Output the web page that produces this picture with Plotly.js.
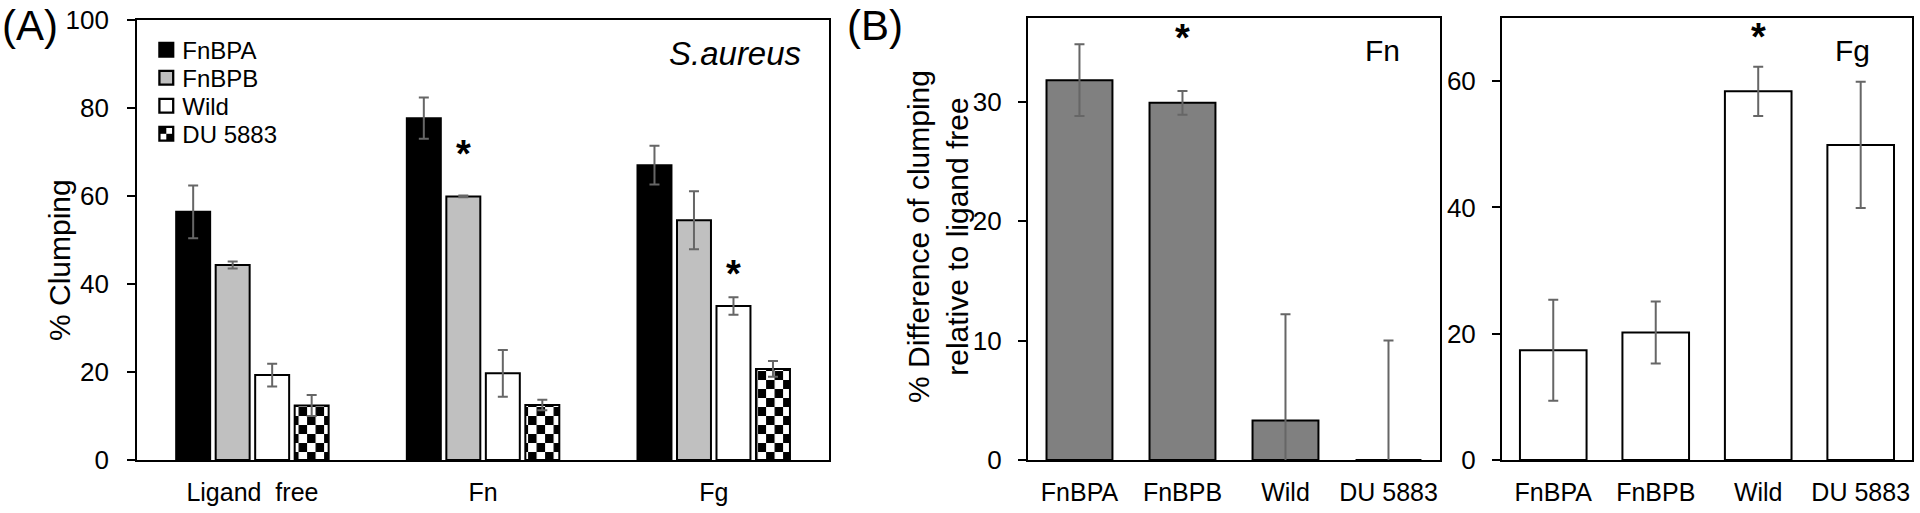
<!DOCTYPE html>
<html>
<head>
<meta charset="utf-8">
<script src="https://cdn.plot.ly/plotly-3.0.1.min.js"></script>
<style>
  html, body { margin: 0; padding: 0; background: #fff; }
  #chart { width: 1920px; height: 513px; }
</style>
</head>
<body>
<div id="chart"></div>
<script>
// panel A: % clumping per ligand
var groupsA = ['Ligand\u00a0\u00a0free', 'Fn', 'Fg'];
var fnbpaA = [56.4, 77.7, 67.0];
var fnbpaErrA = [6.0, 4.7, 4.4];
var fnbpbA = [44.3, 59.9, 54.5];
var fnbpbErrA = [0.8, 0.2, 6.6];
var wildA = [19.3, 19.7, 35.0];
var wildErrA = [2.6, 5.3, 2.0];
var duA = [12.4, 12.5, 20.7];
var duErrA = [2.4, 1.2, 1.8];

// panel B: % difference relative to ligand free
var strains = ['FnBPA', 'FnBPB', 'Wild', 'DU 5883'];
var fnDiff = [31.8, 29.9, 3.3, 0];
var fnDiffErr = [3.0, 1.0, 8.9, 10.0];
var fgDiff = [17.4, 20.2, 58.4, 49.9];
var fgDiffErr = [8.0, 4.9, 3.9, 10.0];

var font = 'Liberation Sans, Arial, sans-serif';
var errStyle = function (arr) {
  return {type: 'data', array: arr, visible: true, color: '#666666', thickness: 2, width: 5};
};

var trace1 = {
  x: groupsA, y: fnbpaA, name: 'FnBPA', type: 'bar',
  marker: {color: '#000000', line: {color: '#000000', width: 2}},
  error_y: errStyle(fnbpaErrA), xaxis: 'x', yaxis: 'y'
};
var trace2 = {
  x: groupsA, y: fnbpbA, name: 'FnBPB', type: 'bar',
  marker: {color: '#c0c0c0', line: {color: '#000000', width: 2}},
  error_y: errStyle(fnbpbErrA), xaxis: 'x', yaxis: 'y'
};
var trace3 = {
  x: groupsA, y: wildA, name: 'Wild', type: 'bar',
  marker: {color: '#ffffff', line: {color: '#000000', width: 2}},
  error_y: errStyle(wildErrA), xaxis: 'x', yaxis: 'y'
};
var trace4 = {
  x: groupsA, y: duA, name: 'DU 5883', type: 'bar',
  marker: {color: '#ffffff', line: {color: '#000000', width: 2},
    pattern: {shape: '+', fgcolor: '#000000', bgcolor: '#ffffff', size: 8, solidity: 0.5}},
  error_y: errStyle(duErrA), xaxis: 'x', yaxis: 'y'
};
var trace5 = {
  x: strains, y: fnDiff, name: 'Fn', type: 'bar', showlegend: false, width: 0.64,
  marker: {color: '#808080', line: {color: '#000000', width: 2}},
  error_y: errStyle(fnDiffErr), xaxis: 'x2', yaxis: 'y2'
};
var trace6 = {
  x: strains, y: fgDiff, name: 'Fg', type: 'bar', showlegend: false, width: 0.65,
  marker: {color: '#ffffff', line: {color: '#000000', width: 2}},
  error_y: errStyle(fgDiffErr), xaxis: 'x3', yaxis: 'y3'
};

var data = [trace1, trace2, trace3, trace4, trace5, trace6];

var axisBase = {
  showline: true, mirror: true, linecolor: '#000000', linewidth: 2,
  showgrid: false, zeroline: false, fixedrange: true
};
var xBase = Object.assign({}, axisBase, {
  type: 'category', ticks: '', tickfont: {family: font, size: 25, color: '#000'},
  ticklabelstandoff: 9
});
var yBase = Object.assign({}, axisBase, {
  ticks: 'outside', ticklen: 8, tickwidth: 2, tickcolor: '#000',
  tickfont: {family: font, size: 26, color: '#000'}, ticklabelstandoff: 13
});

var star = {family: font, size: 38, color: '#000'};
var titleFont = {family: font, size: 30, color: '#000'};

var layout = {
  width: 1920, height: 513, autosize: false,
  margin: {l: 0, r: 0, t: 0, b: 0},
  paper_bgcolor: '#ffffff', plot_bgcolor: '#ffffff',
  font: {family: font, color: '#000'},
  barmode: 'group', bargap: 0.315, bargroupgap: 0.14,
  showlegend: true,
  legend: {
    x: 0.0762, y: 0.946, xanchor: 'left', yanchor: 'top',
    font: {family: font, size: 24, color: '#000'},
    itemwidth: 30, tracegroupgap: 0, bgcolor: 'rgba(0,0,0,0)'
  },
  xaxis: Object.assign({}, xBase, {domain: [0.0714, 0.4318], anchor: 'y'}),
  yaxis: Object.assign({}, yBase, {
    domain: [0.1033, 0.961], anchor: 'x', range: [0, 100], dtick: 20
  }),
  xaxis2: Object.assign({}, xBase, {domain: [0.5354, 0.75], anchor: 'y2'}),
  yaxis2: Object.assign({}, yBase, {
    domain: [0.1033, 0.9649], anchor: 'x2', range: [0, 37], dtick: 10, ticklabelstandoff: 11
  }),
  xaxis3: Object.assign({}, xBase, {domain: [0.7823, 0.9958], anchor: 'y3'}),
  yaxis3: Object.assign({}, yBase, {
    domain: [0.1033, 0.9649], anchor: 'x3', range: [0, 70], dtick: 20, ticklabelstandoff: 11
  }),
  annotations: [
    {xref: 'paper', yref: 'paper', x: 0.0, y: 1.0, xanchor: 'left', yanchor: 'top',
      text: '(A)', showarrow: false, font: {family: font, size: 42, color: '#000'}},
    {xref: 'paper', yref: 'paper', x: 0.440, y: 1.0, xanchor: 'left', yanchor: 'top',
      text: '(B)', showarrow: false, font: {family: font, size: 42, color: '#000'}},
    {xref: 'paper', yref: 'paper', x: 0.0307, y: 0.493, xanchor: 'center', yanchor: 'middle',
      textangle: -90, text: '% Clumping', showarrow: false, font: titleFont},
    {xref: 'paper', yref: 'paper', x: 0.4888, y: 0.539, xanchor: 'center', yanchor: 'middle',
      textangle: -90, text: '% Difference of clumping<br>relative to ligand free',
      showarrow: false, font: titleFont},
    {xref: 'paper', yref: 'paper', x: 0.3828, y: 0.895, xanchor: 'center', yanchor: 'middle',
      text: '<i>S.aureus</i>', showarrow: false, font: {family: font, size: 33, color: '#000'}},
    {xref: 'paper', yref: 'paper', x: 0.7198, y: 0.902, xanchor: 'center', yanchor: 'middle',
      text: 'Fn', showarrow: false, font: {family: font, size: 30, color: '#000'}},
    {xref: 'paper', yref: 'paper', x: 0.965, y: 0.902, xanchor: 'center', yanchor: 'middle',
      text: 'Fg', showarrow: false, font: {family: font, size: 30, color: '#000'}},
    {xref: 'x', yref: 'y', x: 'Fn', y: 70.9, xshift: -19.7, yshift: -6, yanchor: 'middle',
      text: '<b>*</b>', showarrow: false, font: star},
    {xref: 'x', yref: 'y', x: 'Fg', y: 43.6, xshift: 19.7, yshift: -6, yanchor: 'middle',
      text: '<b>*</b>', showarrow: false, font: star},
    {xref: 'x2', yref: 'y2', x: 'FnBPB', y: 35.8, yshift: -6, yanchor: 'middle',
      text: '<b>*</b>', showarrow: false, font: star},
    {xref: 'x3', yref: 'y3', x: 'Wild', y: 67.9, yshift: -6, yanchor: 'middle',
      text: '<b>*</b>', showarrow: false, font: star}
  ]
};

Plotly.newPlot('chart', data, layout, {staticPlot: true}).then(function (gd) {
  // turn the DU 5883 texture into a checkerboard
  gd.querySelectorAll('pattern').forEach(function (p) {
    p.setAttribute('width', 17);
    p.setAttribute('height', 18);
    p.removeAttribute('patternTransform');
    p.innerHTML = '<rect width="17" height="18" fill="#ffffff"></rect>' +
      '<rect width="8.5" height="9" fill="#000000"></rect>' +
      '<rect x="8.5" y="9" width="8.5" height="9" fill="#000000"></rect>';
  });
  // tighter legend rows, bigger swatches, text closer to the swatch
  var items = gd.querySelectorAll('.legend .traces');
  if (items.length) {
    var m = /translate\(\s*([-\d.]+)[ ,]+([-\d.]+)/.exec(items[0].getAttribute('transform') || '');
    var x0 = m ? parseFloat(m[1]) : 0;
    var y0 = m ? parseFloat(m[2]) : 0;
    items.forEach(function (el, i) {
      el.setAttribute('transform', 'translate(' + x0 + ',' + (y0 + i * 28) + ')');
      var t = el.querySelector('text.legendtext');
      if (t) t.setAttribute('x', 36);
      el.querySelectorAll('.legendpoints path').forEach(function (pth) {
        var tr = pth.getAttribute('transform') || '';
        pth.setAttribute('transform', (tr + ' scale(1.15)').trim());
      });
    });
  }
});
</script>
</body>
</html>
